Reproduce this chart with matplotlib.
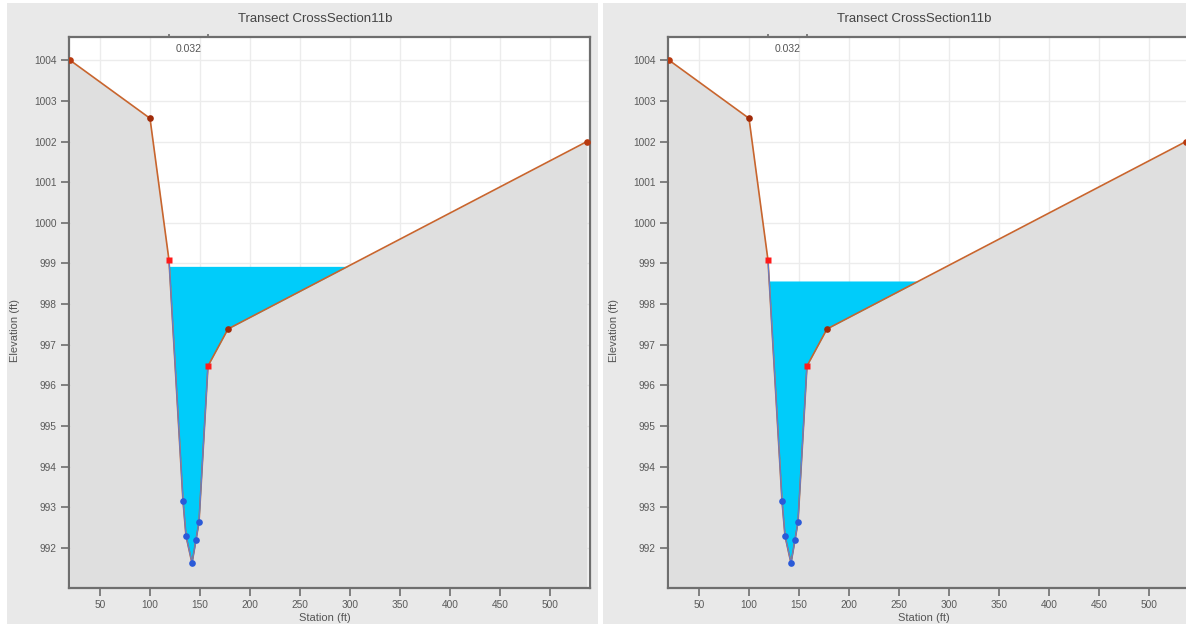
import numpy as np
import matplotlib
matplotlib.use("Agg")
import matplotlib.pyplot as plt
from matplotlib.patches import Rectangle

# ---- data ----
station = [20, 100, 119, 133, 136, 142, 146, 149, 158, 178, 537]
elevation = [1004.0, 1002.57, 999.08, 993.16, 992.30, 991.63, 992.20, 992.64, 996.48, 997.39, 1002.0]
point_kind = ["end", "dark", "bank", "sub", "sub", "sub", "sub", "sub", "bank", "dark", "end"]
water_levels = [998.93, 998.57]
title = "Transect CrossSection11b"
n_label = "0.032"
n_bounds = [119, 158]
x_ticks = [50, 100, 150, 200, 250, 300, 350, 400, 450, 500]
y_ticks = [992, 993, 994, 995, 996, 997, 998, 999, 1000, 1001, 1002, 1003, 1004]

plt.rcParams['font.family'] = ['Liberation Sans', 'DejaVu Sans']

W, H = 1186, 628
fig = plt.figure(figsize=(W / 100, H / 100), dpi=100, facecolor="white")

kind_colors = {"end": "#b83a10", "dark": "#a02a08", "bank": "#ff1a1a", "sub": "#2a5ad8"}

panels = [(7, 598), (603, 1190)]
ax_left_px = [69, 668]
ax_w_px = 521
ax_top_px, ax_bot_px = 37, 588

st = np.array(station, dtype=float)
el = np.array(elevation, dtype=float)

for i, wl in enumerate(water_levels):
    px0, px1 = panels[i]
    fig.patches.append(Rectangle((px0 / W, 4 / H), (px1 - px0) / W, (625 - 4) / H,
                                 transform=fig.transFigure, facecolor="#e9e9e9",
                                 edgecolor="none", zorder=-10))
    ax = fig.add_axes([ax_left_px[i] / W, 1 - ax_bot_px / H, ax_w_px / W,
                       (ax_bot_px - ax_top_px) / H])
    ax.set_facecolor("white")
    ax.set_xlim(19, 540)
    ax.set_ylim(991.02, 1004.57)
    ymin = 991.02

    ax.grid(True, color="#ececec", lw=1.0, zorder=0)
    ax.set_axisbelow(True)

    # ground
    ax.fill_between(st, el, ymin, color="#dfdfdf", zorder=1, lw=0)
    # water
    ax.fill_between(st, el, wl, where=el < wl, interpolate=True,
                    color="#00ccfa", zorder=2, lw=0)

    ax.plot(st, el, color="#c8652e", lw=1.2, zorder=3)
    ax.plot(st[2:9], el[2:9], color="#5a7fd8", lw=0.8, zorder=3)
    for s, e, k in zip(station, elevation, point_kind):
        mk = "s" if k == "bank" else "o"
        ax.plot(s, e, marker=mk, ms=5.0 if k == "bank" else 4.8,
                color=kind_colors[k], zorder=5, lw=0, mec="none")

    for sp in ax.spines.values():
        sp.set_color("#6e6e6e")
        sp.set_linewidth(1.6)
    ax.set_xticks(x_ticks)
    ax.set_yticks(y_ticks)
    ax.tick_params(axis="both", direction="out", length=6, width=1.2,
                   color="#6e6e6e", labelsize=7.3, labelcolor="#5a5a5a", pad=3)

    secx = ax.secondary_xaxis("top")
    secx.set_xticks(n_bounds)
    secx.set_xticklabels(["", ""])
    secx.tick_params(direction="out", length=2.5, width=1.2, color="#6e6e6e")
    secx.spines["top"].set_visible(False)

    ax.text(np.mean(n_bounds), 1004.27, n_label, ha="center", va="center",
            fontsize=7.5, color="#555555", zorder=6)

    ax.set_xlabel("Station (ft)", fontsize=8, color="#555555")
    ax.set_ylabel("Elevation (ft)", fontsize=8, color="#555555")
    ax.xaxis.set_label_coords((325 - 69) / ax_w_px, (588 - 613) / 551)
    ax.yaxis.set_label_coords((20 - 69) / ax_w_px, (588 - 330) / 551)

    cx = ((ax_left_px[i] - 69) + 315) / W
    fig.text(cx, 1 - 19 / H, title, ha="center", va="center",
             fontsize=9.5, color="#444444")

fig.savefig("out.png", dpi=100, facecolor="white")
